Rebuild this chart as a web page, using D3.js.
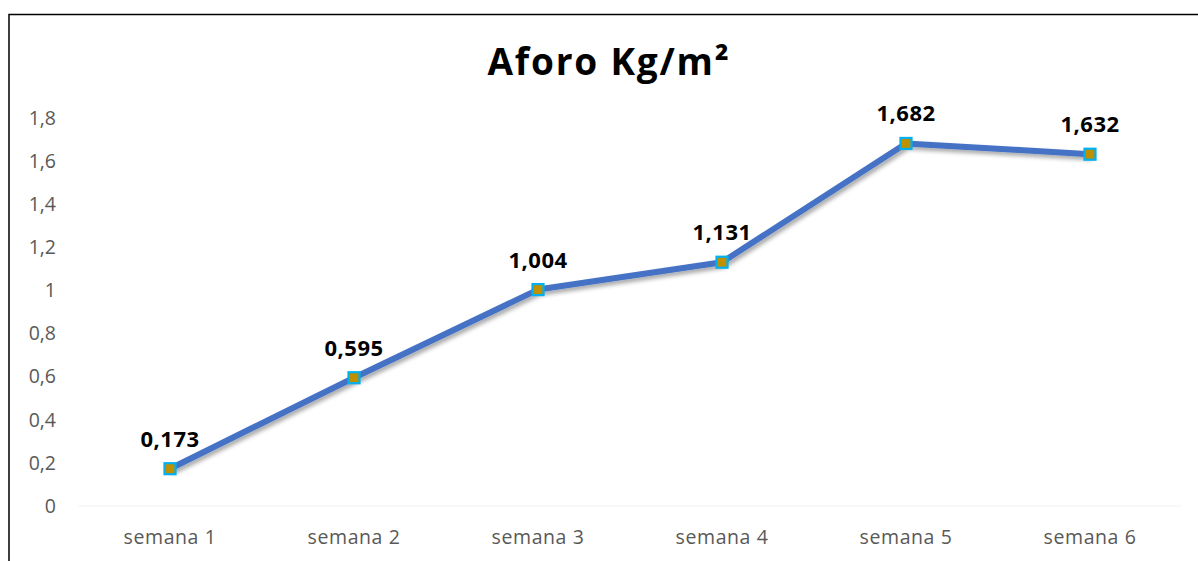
<!DOCTYPE html>
<html>
<head>
    <meta charset="utf-8">
    <script src="https://d3js.org/d3.v7.min.js"></script>
    <style>
        body { margin: 0; background: #fff; }
        svg { display: block; font-family: "Open Sans", "Noto Sans", sans-serif; }
    </style>
</head>
<body>
    <div id="chart"></div>
    <script>
        // data
        var weeks = ["semana 1", "semana 2", "semana 3", "semana 4", "semana 5", "semana 6"];
        var aforo = [0.173, 0.595, 1.004, 1.131, 1.682, 1.632];
        var yTicks = [0, 0.2, 0.4, 0.6, 0.8, 1, 1.2, 1.4, 1.6, 1.8];
        var title = "Aforo Kg/m²";

        var W = 1198, H = 561;
        var margin = { top: 118, right: 16, bottom: 55, left: 78 };
        var width = 1182 - margin.left,
            height = 506 - margin.top;
        var font = "'Open Sans', 'Noto Sans', sans-serif";

        var svg = d3.select("#chart").append("svg")
            .attr("width", W)
            .attr("height", H);

        // shadow for the line
        var defs = svg.append("defs");
        var f = defs.append("filter").attr("id", "shadow")
            .attr("x", "-10%").attr("y", "-10%").attr("width", "120%").attr("height", "130%");
        f.append("feDropShadow")
            .attr("dx", 2).attr("dy", 3).attr("stdDeviation", 2)
            .attr("flood-color", "#000").attr("flood-opacity", 0.35);

        // frame
        svg.append("path")
            .attr("d", "M9,561 V14.5 H1198")
            .attr("fill", "none")
            .attr("stroke", "#000")
            .attr("stroke-width", 1.5);

        svg.append("text")
            .attr("x", 609)
            .attr("y", 75)
            .attr("text-anchor", "middle")
            .style("font-family", font)
            .style("font-size", "37px")
            .style("font-weight", "bold")
            .style("letter-spacing", "1.8px")
            .attr("fill", "#000")
            .text(title);

        var g = svg.append("g")
            .attr("transform", "translate(" + margin.left + "," + margin.top + ")");

        var x = d3.scaleBand().domain(weeks).range([0, width]);
        var y = d3.scaleLinear().domain([0, 1.8]).range([height, 0]);

        var fmt = function (v) { return String(v).replace(".", ","); };

        // y axis
        var yAxis = g.append("g")
            .call(d3.axisLeft(y).tickValues(yTicks).tickSize(0).tickPadding(22)
                .tickFormat(fmt));
        yAxis.select(".domain").remove();
        yAxis.selectAll("text")
            .attr("fill", "#595959")
            .style("font-family", font)
            .style("font-size", "19.5px");

        // baseline
        g.append("line")
            .attr("x1", 0).attr("x2", width)
            .attr("y1", y(0)).attr("y2", y(0))
            .attr("stroke", "#f2f2f2")
            .attr("stroke-width", 1);

        // x axis
        var xAxis = g.append("g")
            .attr("transform", "translate(0," + height + ")")
            .call(d3.axisBottom(x).tickSize(0).tickPadding(24));
        xAxis.select(".domain").remove();
        xAxis.selectAll("text")
            .attr("fill", "#595959")
            .style("font-family", font)
            .style("font-size", "19.5px")
            .style("letter-spacing", "0.6px");

        var cx = function (d, i) { return x(weeks[i]) + x.bandwidth() / 2; };

        g.append("path")
            .datum(aforo)
            .attr("fill", "none")
            .attr("stroke", "#4472C4")
            .attr("stroke-width", 6)
            .attr("stroke-linejoin", "round")
            .attr("filter", "url(#shadow)")
            .attr("d", d3.line().x(cx).y(function (d) { return y(d); }));

        var s = 11;
        g.selectAll("rect.mk")
            .data(aforo)
            .enter().append("rect")
            .attr("class", "mk")
            .attr("x", function (d, i) { return cx(d, i) - s / 2; })
            .attr("y", function (d) { return y(d) - s / 2; })
            .attr("width", s)
            .attr("height", s)
            .attr("fill", "#BF9000")
            .attr("stroke", "#00B0F0")
            .attr("stroke-width", 2.2);

        g.selectAll("text.lbl")
            .data(aforo)
            .enter().append("text")
            .attr("class", "lbl")
            .attr("x", cx)
            .attr("y", function (d) { return y(d) - 22; })
            .attr("text-anchor", "middle")
            .style("font-family", font)
            .style("font-size", "22px")
            .style("font-weight", "bold")
            .style("letter-spacing", "0.5px")
            .attr("fill", "#000")
            .text(function (d) { return d.toFixed(3).replace(".", ","); });
    </script>
</body>
</html>
